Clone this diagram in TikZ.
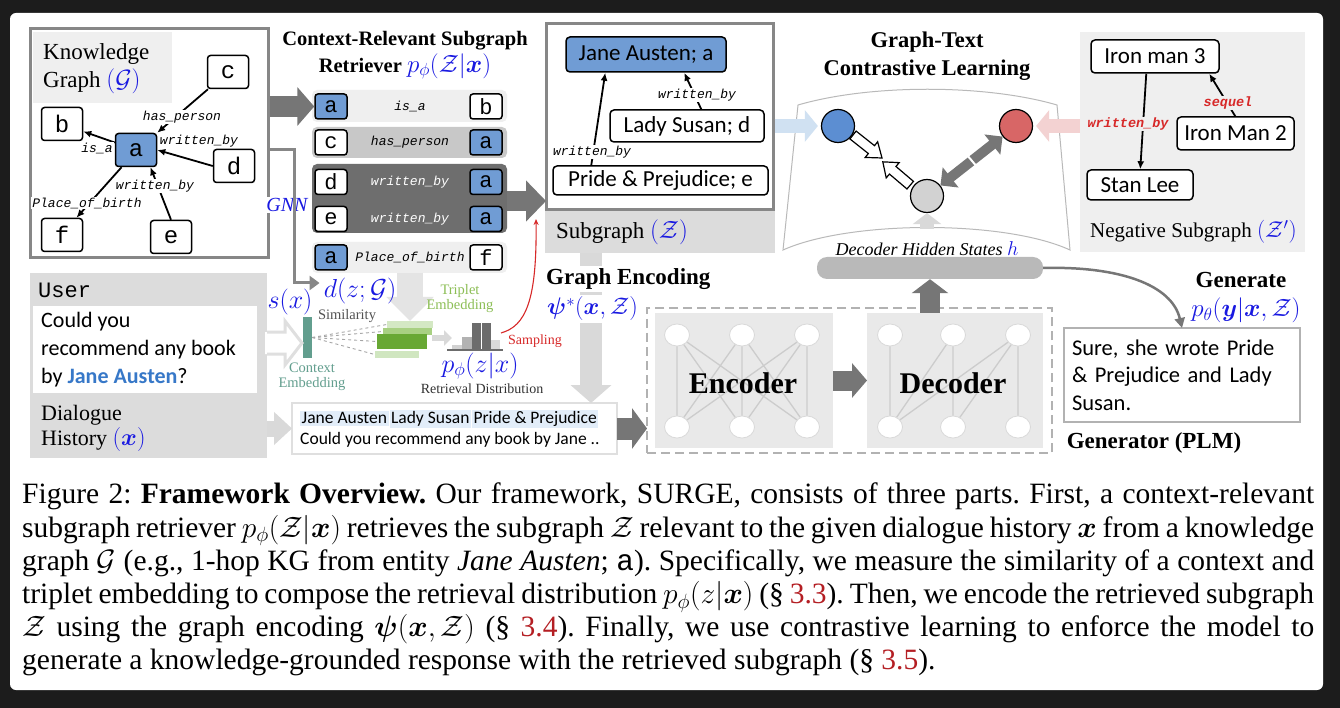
\documentclass[tikz,border=0pt]{standalone}
\usepackage{fix-cm}
\usepackage{fontspec}
\usepackage{amsmath,amssymb}
\usepackage{bm}
\setmainfont{Liberation Serif}
\newfontfamily\calibri{Carlito}
\newfontfamily\courier{Liberation Mono}
\usetikzlibrary{arrows.meta,positioning,calc,shapes.geometric}

\definecolor{nodeblue}{RGB}{112,156,212}
\definecolor{mathblue}{RGB}{25,25,225}
\definecolor{janeblue}{RGB}{55,120,200}
\definecolor{panelgray}{RGB}{220,220,220}
\definecolor{lightpanel}{RGB}{239,239,239}
\definecolor{framegray}{RGB}{135,135,135}
\definecolor{darkrow}{RGB}{110,110,110}
\definecolor{midrow}{RGB}{200,200,200}
\definecolor{arrowgray}{RGB}{118,118,118}
\definecolor{lightarrow}{RGB}{217,217,217}
\definecolor{negred}{RGB}{215,40,40}
\definecolor{posblue}{RGB}{92,142,210}
\definecolor{posred}{RGB}{216,102,102}
\definecolor{posarrow}{RGB}{208,225,242}
\definecolor{negarrow}{RGB}{243,210,210}
\definecolor{ctxteal}{RGB}{98,158,142}
\definecolor{tripgreen}{RGB}{140,190,85}
\definecolor{hlblue}{RGB}{226,237,249}
\definecolor{refred}{RGB}{180,30,35}
\definecolor{bgdark}{RGB}{28,28,28}

\newcommand{\fsz}[2]{\fontsize{#1}{#2}\selectfont}
\newcommand{\mb}[1]{\textcolor{mathblue}{#1}}
\setlength{\fboxsep}{1.5pt}

\tikzset{
  kgbox/.style={draw, line width=1.5pt, rounded corners=3pt, fill=white,
    minimum width=41pt, minimum height=33pt, inner sep=0pt, font=\courier\fsz{24}{24}},
  rowbox/.style={kgbox, minimum width=32pt, minimum height=25pt, font=\courier\fsz{22}{22}},
  edgelbl/.style={font=\courier\itshape\fsz{13}{13}, inner sep=1pt, fill=white},
  rowlbl/.style={font=\courier\itshape\fsz{13}{13}, inner sep=0pt},
  entbox/.style={draw, line width=1.5pt, rounded corners=4pt, fill=white,
    inner sep=0pt, font=\calibri\fsz{23}{23}},
  kgedge/.style={line width=1.8pt, -{Latex[length=8pt,width=7pt]}},
  neuron/.style={ellipse, draw=gray!30, line width=0.8pt, fill=white,
    minimum width=25pt, minimum height=22pt, inner sep=0pt},
  nnline/.style={gray!40, line width=1.3pt},
  panel/.style={inner sep=0pt, outer sep=0pt, anchor=north west},
  smalltxt/.style={font=\fsz{14.5}{15}, inner sep=0pt},
  mathlbl/.style={font=\fsz{26}{26}, text=mathblue, inner sep=0pt},
}

\begin{document}
\begin{tikzpicture}[x=1pt, y=-1pt]
  \useasboundingbox (0,0) rectangle (1340,708);
  \fill[bgdark] (0,0) rectangle (1340,708);
  \fill[white, rounded corners=6pt] (10,13) rectangle (1323,690);

  % Knowledge graph
  \node[panel, draw=framegray, line width=3pt, minimum width=238pt, minimum height=229pt] (kgframe) at (30,29) {};
  \fill[lightpanel] (33,32) rectangle (172,103);
  \node[anchor=north west, align=left, font=\fsz{23}{28}, inner sep=0pt] (kgtitle) at (43,43)
    {Knowledge\\Graph \mb{\fsz{25}{28}$(\mathcal{G})$}};

  \node[kgbox] (c) at (228,72) {c};
  \node[kgbox] (b) at (62,124) {b};
  \node[kgbox, fill=nodeblue] (a) at (136,150) {a};
  \node[kgbox] (d) at (234,166) {d};
  \node[kgbox] (f) at (62,235) {f};
  \node[kgbox] (e) at (171,237) {e};

  \draw[kgedge] (c) -- (a.north east);
  \draw[kgedge] (a) -- (b);
  \draw[kgedge] (d.west) -- (a.east);
  \draw[kgedge] (e.north) -- (a.-50);
  \draw[kgedge] (a.-130) -- (f.50);

  \node[edgelbl] (lhas) at (182,117) {has\_person};
  \node[edgelbl] (lisa) at (97,148) {is\_a};
  \node[edgelbl] (lwd) at (199,141) {written\_by};
  \node[edgelbl] (lwe) at (155,186) {written\_by};
  \node[edgelbl] (lpob) at (87,203) {Place\_of\_birth};

  % Subgraph retriever
  \node[font=\bfseries\fsz{20.5}{27}, align=center, inner sep=0pt] (rettitle) at (405,55)
    {Context-Relevant Subgraph\\Retriever \mb{\fsz{25}{27}$p_\phi(\mathcal{Z}|\bm{x})$}};

  \fill[lightpanel, rounded corners=5pt] (312,90) rectangle (507,122);
  \fill[midrow, rounded corners=5pt] (312,127) rectangle (507,158);
  \fill[darkrow, rounded corners=5pt] (312,164) rectangle (507,233);
  \fill[lightpanel, rounded corners=5pt] (312,242) rectangle (507,273);

  \node[rowbox, fill=nodeblue] (r1l) at (331,106.5) {a};
  \node[rowlbl] (r1t) at (410,106.5) {is\_a};
  \node[rowbox] (r1r) at (486,106.5) {b};
  \node[rowbox] (r2l) at (331,142.5) {c};
  \node[rowlbl] (r2t) at (410,142.5) {has\_person};
  \node[rowbox, fill=nodeblue] (r2r) at (486,142.5) {a};
  \node[rowbox] (r3l) at (331,182) {d};
  \node[rowlbl, text=white] (r3t) at (410,182) {written\_by};
  \node[rowbox, fill=nodeblue] (r3r) at (486,182) {a};
  \node[rowbox] (r4l) at (331,219) {e};
  \node[rowlbl, text=white] (r4t) at (410,219) {written\_by};
  \node[rowbox, fill=nodeblue] (r4r) at (486,219) {a};
  \node[rowbox, fill=nodeblue] (r5l) at (331,257.5) {a};
  \node[rowlbl] (r5t) at (410,257.5) {Place\_of\_birth};
  \node[rowbox] (r5r) at (486,257.5) {f};

  \draw[arrowgray, line width=21pt, -{Triangle[length=17pt,width=38pt]}]
    ($(kgframe.east |- r1l)+(1.5,0)$) -- (r1l.west);
  \node[fill=white, font=\itshape\fsz{20}{20}, text=mathblue, inner sep=1pt] (gnn) at (287,205) {GNN};

  % Subgraph
  \node[panel, draw=framegray, line width=3pt, minimum width=227pt, minimum height=186pt] (sgframe) at (546,24) {};
  \fill[panelgray] (544.5,211.5) rectangle (774.5,253);
  \node[anchor=west, font=\fsz{23}{23}, inner sep=0pt] (sglbl) at (556,232) {Subgraph \mb{\fsz{25}{25}$(\mathcal{Z})$}};

  \node[entbox, fill=nodeblue, minimum width=160pt, minimum height=35pt] (ja) at (646,54.5) {Jane Austen; a};
  \node[entbox, minimum width=154pt, minimum height=32pt] (ls) at (687,126) {Lady Susan; d};
  \node[entbox, minimum width=215pt, minimum height=29pt] (pp) at (660.5,180.5) {Pride \& Prejudice; e};
  \draw[kgedge] ([xshift=39pt]pp.north west) -- ([xshift=40pt]ja.south west);
  \draw[kgedge] ([xshift=92pt]ls.north west) -- ([xshift=119pt]ja.south west);
  \node[edgelbl] (lsg1) at (592,152) {written\_by};
  \node[edgelbl] (lsg2) at (697,95) {written\_by};

  \coordinate (rowsout) at (507,201);
  \draw[arrowgray, line width=20pt, -{Triangle[length=20pt,width=40pt]}]
    (rowsout) -- (sgframe.west |- rowsout);

  % Graph-text contrastive learning
  \node[font=\bfseries\fsz{22.5}{28}, align=center, inner sep=0pt] (cltitle) at (927,56)
    {Graph-Text\\Contrastive Learning};
  \draw[gray!55, line width=1pt] (798,105) .. controls (870,84) and (985,84) .. (1057,105)
    -- (1070,250) .. controls (1005,220) and (850,220) .. (783,250) -- cycle;

  \node[circle, draw, line width=1.2pt, fill=posblue, minimum size=33pt, inner sep=0pt] (cpos) at (838,126) {};
  \node[circle, draw, line width=1.2pt, fill=posred, minimum size=33pt, inner sep=0pt] (cneg) at (1016,126) {};
  \node[circle, draw, line width=1.2pt, fill=gray!35, minimum size=33pt, inner sep=0pt] (chid) at (927,196) {};

  \begin{scope}[shift={(867.5,146.5)}, rotate=-38.4]
    \draw[line width=1.2pt, fill=white] (-18.5,-5) -- (5,-5) -- (5,-10) -- (18.5,0) -- (5,10) -- (5,5) -- (-18.5,5) -- cycle;
  \end{scope}
  \begin{scope}[shift={(896.5,173.5)}, rotate=139.6]
    \draw[line width=1.2pt, fill=white] (-18,-5) -- (5,-5) -- (5,-10) -- (18,0) -- (5,10) -- (5,5) -- (-18,5) -- cycle;
  \end{scope}
  \draw[arrowgray, line width=10pt, {Triangle[length=13pt,width=25pt]}-{Triangle[length=13pt,width=25pt]}]
    (chid) -- (cneg);
  \draw[white, line width=2pt] (967,155) -- (978,168);

  \coordinate (hin) at (927,229);
  \draw[lightarrow, line width=14pt, -{Triangle[length=11pt,width=28pt]}] (hin) -- (chid.south);
  \node[font=\itshape\fsz{18}{18}, inner sep=0pt] (hstates) at (927,249) {Decoder Hidden States \mb{\fsz{20}{20}$h$}};
  \node[fill=gray!55, rounded corners=10pt, minimum width=226pt, minimum height=22pt, inner sep=0pt] (hbar) at (930,268) {};

  % Negative subgraph
  \node[panel, fill=lightpanel, minimum width=225pt, minimum height=220pt] (negpanel) at (1080,32) {};
  \node[entbox, minimum width=128pt, minimum height=33pt] (im3) at (1155,56.5) {Iron man 3};
  \node[entbox, minimum width=117pt, minimum height=33pt] (im2) at (1235.5,133.5) {Iron Man 2};
  \node[entbox, minimum width=106pt, minimum height=30pt] (sl) at (1140,185) {Stan Lee};
  \draw[kgedge] ([xshift=56pt]im3.south west) -- ([xshift=54pt]sl.north west);
  \draw[kgedge] ([xshift=59pt]im2.north west) -- ([xshift=119pt]im3.south west);
  \node[edgelbl, fill=lightpanel, text=negred, font=\courier\itshape\bfseries\fsz{13.5}{13.5}] (lneg1) at (1128,124) {written\_by};
  \node[edgelbl, fill=lightpanel, text=negred, font=\courier\itshape\bfseries\fsz{13.5}{13.5}] (lneg2) at (1228,103) {sequel};
  \node[anchor=west, font=\fsz{21}{21}, inner sep=0pt] (neglbl) at (1090,232) {Negative Subgraph \mb{\fsz{23}{23}$(\mathcal{Z}')$}};

  \draw[posarrow, line width=14pt, -{Triangle[length=13pt,width=31pt]}]
    ($(sgframe.east |- cpos)+(1.5,0)$) -- ([xshift=-3pt]cpos.west);
  \draw[negarrow, line width=14pt, -{Triangle[length=13pt,width=31pt]}]
    (negpanel.west |- cneg) -- ([xshift=3pt]cneg.east);

  % Dialogue history
  \node[panel, fill=panelgray, minimum width=237pt, minimum height=185pt] (userpanel) at (30,273) {};
  \node[anchor=west, font=\courier\fsz{22}{22}, inner sep=0pt] (usertag) at (38,290) {User};
  \fill[white] (33,306) rectangle (257,393);
  \node[anchor=west, align=left, font=\calibri\fsz{22}{28}, inner sep=0pt] (userutt) at (41,350)
    {Could you\\recommend any book\\by \textcolor{janeblue}{\bfseries Jane Austen}?};
  \node[anchor=north west, align=left, font=\fsz{22}{25}, inner sep=0pt] (dhist) at (41,405)
    {Dialogue\\History \mb{\fsz{24}{25}$(\bm{x})$}};

  % Retrieval distribution
  \node[fill=ctxteal, minimum width=9pt, minimum height=41pt, inner sep=0pt] (ctx) at (307.5,337.5) {};
  \fill[white] (265,332) -- (285,332) -- (285,321) -- (302,343) -- (285,365) -- (285,354) -- (265,354) -- cycle;
  \draw[gray!25, line width=3pt] (267,332) -- (285,332) -- (285,321) -- (302,343) -- (285,365) -- (285,354) -- (267,354);

  \coordinate (r5bot) at (410,273);
  \coordinate (embtop) at (410,321);
  \draw[lightarrow!70, line width=26pt, -{Triangle[length=24pt,width=46pt]}] (r5bot) -- (embtop);
  \node[fill={rgb,255:red,212;green,232;blue,196}, minimum width=46pt, minimum height=7pt, inner sep=0pt] (emb1) at (410,324.5) {};
  \node[fill={rgb,255:red,168;green,208;blue,130}, minimum width=49pt, minimum height=7pt, inner sep=0pt] (emb2) at (407.5,331.5) {};
  \node[fill={rgb,255:red,208;green,230;blue,192}, minimum width=44pt, minimum height=7pt, inner sep=0pt] (emb4) at (397,354.5) {};
  \node[fill={rgb,255:red,104;green,168;blue,52}, minimum width=50pt, minimum height=15pt, inner sep=0pt] (emb3) at (402,341.5) {};
  \draw[gray!70, dashed, line width=0.9pt] (ctx.east) -- (emb1.west);
  \draw[gray!70, dashed, line width=0.9pt] (ctx.east) -- (emb2.west);
  \draw[gray!70, dashed, line width=0.9pt] (ctx.east) -- (emb3.west);
  \draw[gray!70, dashed, line width=0.9pt] (ctx.east) -- (emb4.west);

  \node[mathlbl] (sx) at (290,302) {$s(x)$};
  \node[mathlbl] (dzg) at (360,291) {$d(z;\mathcal{G})$};
  \draw[framegray, line width=3pt, -{Triangle[length=10pt,width=14pt]}]
    (kgframe.east |- a) -- ++(26,0) |- ($(dzg.west)+(-4,-8)$);
  \node[smalltxt, text=gray!65!black] (simlbl) at (347,316) {Similarity};
  \node[smalltxt, text=ctxteal, align=center, font=\fsz{14.5}{15}] (ctxlbl) at (312,377) {Context\\Embedding};
  \node[smalltxt, text=tripgreen, align=center, font=\fsz{14.5}{15}] (triplbl) at (460,299) {Triplet\\Embedding};

  \coordinate (histin) at (452,338);
  \draw[lightarrow, line width=6pt, -{Triangle[length=8pt,width=15pt]}] (emb2.east |- histin) -- (histin);
  \fill[gray!35] (452,345) rectangle (462,349);
  \fill[gray!60] (462,337) rectangle (472,349);
  \fill[gray!85!black] (472,323) rectangle (481,349);
  \fill[gray!85!black] (482,323) rectangle (491,349);
  \fill[gray!30] (491,340) rectangle (500,349);
  \draw[gray!85!black, line width=2pt] (447,349.5) -- (503,349.5);
  \node[mathlbl] (pzx) at (480,366) {$p_\phi(z|x)$};
  \node[smalltxt, font=\fsz{14}{14}, text=black!80] (retlbl) at (482,389) {Retrieval Distribution};
  \node[smalltxt, font=\fsz{14}{14}, text=negred] (samplbl) at (535,341) {Sampling};
  \coordinate (samp) at (501,333);
  \coordinate (samptip) at (536,219);
  \draw[negred, line width=1.1pt, -{Stealth[length=6pt,width=5pt]}]
    (samp) .. controls (526,326) and (537,300) .. (samptip);

  % Graph encoding
  \node[panel, draw=gray!25, line width=2.5pt, minimum width=325pt, minimum height=51pt] (tbox) at (292,403) {};
  \node[anchor=west, align=left, font=\calibri\fsz{17.5}{21}, inner sep=0pt] (tboxtxt) at (300,429)
    {\colorbox{hlblue}{Jane Austen}\hspace{1pt}\colorbox{hlblue}{Lady Susan}\hspace{1pt}\colorbox{hlblue}{Pride \& Prejudice}\\
     Could you recommend any book by Jane ..};
  \coordinate (sgout) at (591,253);
  \draw[lightarrow, line width=22pt, -{Triangle[length=18pt,width=40pt]}] (sgout) -- (sgout |- tbox.north);
  \node[anchor=west, fill=white, font=\bfseries\fsz{23}{23}, inner sep=2pt] (gelbl) at (544,279) {Graph Encoding};
  \node[anchor=west, fill=white, font=\fsz{24}{24}, text=mathblue, inner sep=2pt] (psilbl) at (545,309)
    {$\bm{\psi}^*(\bm{x},\mathcal{Z})$};
  \draw[lightarrow, line width=16pt, -{Triangle[length=18pt,width=32pt]}] (userpanel.east |- tbox.west) -- (tbox.west);

  % Encoder-decoder generator
  \node[panel, draw=gray!60, line width=2.5pt, dash pattern=on 9pt off 5pt, minimum width=405pt, minimum height=145pt] (dashbox) at (647,308) {};
  \node[panel, fill=gray!17, minimum width=178pt, minimum height=135pt] (encpanel) at (655,313) {};
  \node[panel, fill=gray!17, minimum width=176pt, minimum height=135pt] (decpanel) at (867,313) {};
  \draw[arrowgray, line width=22pt, -{Triangle[length=15pt,width=40pt]}] (tbox.east) -- (dashbox.west |- tbox.east);

  \node[neuron] (e1) at (677,335) {};
  \node[neuron] (e2) at (742,335) {};
  \node[neuron] (e3) at (807,335) {};
  \node[neuron] (e4) at (677,427) {};
  \node[neuron] (e5) at (742,427) {};
  \node[neuron] (e6) at (807,427) {};
  \draw[nnline] (e1) -- (e4) (e1) -- (e5) (e1) -- (e6)
                (e2) -- (e4) (e2) -- (e5) (e2) -- (e6)
                (e3) -- (e4) (e3) -- (e5) (e3) -- (e6);
  \node[neuron] (d1) at (890,335) {};
  \node[neuron] (d2) at (953,335) {};
  \node[neuron] (d3) at (1018,335) {};
  \node[neuron] (d4) at (890,427) {};
  \node[neuron] (d5) at (953,427) {};
  \node[neuron] (d6) at (1018,427) {};
  \draw[nnline] (d1) -- (d4) (d2) -- (d4) (d2) -- (d5)
                (d3) -- (d4) (d3) -- (d5) (d3) -- (d6);
  \node[font=\bfseries\fsz{30}{30}, inner sep=0pt] (enclbl) at (743,383) {Encoder};
  \node[font=\bfseries\fsz{30}{30}, inner sep=0pt] (declbl) at (953,383) {Decoder};
  \draw[arrowgray, line width=20pt, -{Triangle[length=15pt,width=34pt]}] (encpanel.east) -- (decpanel.west);
  \draw[arrowgray, line width=20pt, -{Triangle[length=14pt,width=36pt]}] (hbar.south |- decpanel.north) -- (hbar.south);

  % Generate
  \node[font=\bfseries\fsz{23}{23}, inner sep=0pt] (genlbl) at (1241,280) {Generate};
  \node[font=\fsz{25}{25}, text=mathblue, inner sep=0pt] (pylbl) at (1246,310) {$p_\theta(\bm{y}|\bm{x},\mathcal{Z})$};
  \node[panel, draw=gray!60, line width=1.5pt, text width=220pt, minimum height=94pt, inner xsep=8pt,
    align=left, font=\calibri\fsz{22.5}{27.5}] (resp) at (1064,328)
    {Sure, she wrote Pride\\\& Prejudice and Lady\\Susan.};
  \draw[arrowgray, line width=2.5pt, -{Triangle[length=10pt,width=10pt]}]
    (hbar.east) .. controls (1120,266) and (1172,285) .. (resp.north);
  \node[font=\bfseries\fsz{23}{23}, inner sep=0pt] (plmlbl) at (1154,443) {Generator (PLM)};

  % Caption
  \node[anchor=north west, align=left, inner sep=0pt, font=\fsz{29.5}{33.2}\frenchspacing] (caption) at (22,483)
    {\makebox[1292pt][s]{Figure 2: \textbf{Framework Overview.} Our framework, SURGE, consists of three parts. First, a context-relevant}\\
     \makebox[1292pt][s]{subgraph retriever $p_\phi(\mathcal{Z}|\bm{x})$ retrieves the subgraph $\mathcal{Z}$ relevant to the given dialogue history $\bm{x}$ from a knowledge}\\
     \makebox[1292pt][s]{graph $\mathcal{G}$ (e.g., 1-hop KG from entity \textit{Jane Austen}; {\courier a}). Specifically, we measure the similarity of a context and}\\
     \makebox[1292pt][s]{triplet embedding to compose the retrieval distribution $p_\phi(z|\bm{x})$ (\S\ \textcolor{refred}{3.3}). Then, we encode the retrieved subgraph}\\
     \makebox[1292pt][s]{$\mathcal{Z}$ using the graph encoding $\bm{\psi}(\bm{x},\mathcal{Z})$ (\S\ \textcolor{refred}{3.4}). Finally, we use contrastive learning to enforce the model to}\\
     generate a knowledge-grounded response with the retrieved subgraph (\S\ \textcolor{refred}{3.5}).};
\end{tikzpicture}
\end{document}
